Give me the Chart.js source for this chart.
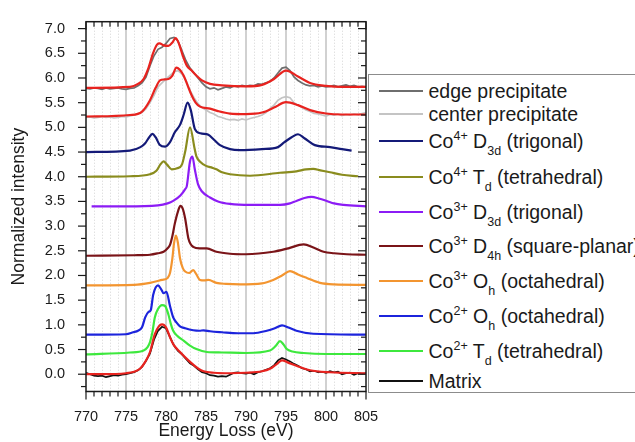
<!DOCTYPE html>
<html><head><meta charset="utf-8">
<script src="https://cdn.jsdelivr.net/npm/chart.js@4"></script>
<style>
html,body{margin:0;padding:0;background:#fff;overflow:hidden;width:635px;height:442px}
#wrap{position:relative;width:635px;height:442px;overflow:hidden;background:#fff}
canvas{position:absolute;left:0;top:0}
#legend{position:absolute;left:368px;top:74px;width:330px;height:319px;border:1.5px solid #8c8c8c;box-sizing:border-box;font-family:"Liberation Sans",Arial,sans-serif;font-size:19.5px;color:#1a1a1a;background:#fff}
.row{position:absolute;left:0;height:20px;line-height:20px;white-space:nowrap}
.sw{position:absolute;left:9.5px;top:9px;width:44px;height:2px}
.tx{position:absolute;left:59.5px;top:0}
sup{font-size:12.5px;position:relative;top:-8px;vertical-align:baseline;line-height:0}
sub{font-size:12.5px;position:relative;top:7px;vertical-align:baseline;line-height:0}
</style>
</head><body>
<div id="wrap"><canvas id="c" width="635" height="442"></canvas><div id="legend"></div></div>
<script>
// ---------- DATA ----------
const xTicks = [770, 775, 780, 785, 790, 795, 800, 805];
const yTicks = [0.0, 0.5, 1.0, 1.5, 2.0, 2.5, 3.0, 3.5, 4.0, 4.5, 5.0, 5.5, 6.0, 6.5, 7.0];

// noisy measured spectra sampled every 0.5 eV from 770 to 805
const gridE = Array.from({length: 71}, (_, i) => 770 + i * 0.5);
const edgeV = [5.79,5.78,5.80,5.79,5.77,5.80,5.78,5.79,5.80,5.78,5.77,5.79,5.80,5.84,5.90,6.02,6.25,6.45,6.58,6.62,6.70,6.80,6.82,6.75,6.55,6.35,6.20,6.10,6.00,5.90,5.82,5.78,5.80,5.76,5.79,5.82,5.80,5.84,5.82,5.85,5.83,5.85,5.84,5.88,5.87,5.90,5.93,6.00,6.10,6.20,6.22,6.15,6.02,5.95,5.90,5.86,5.84,5.85,5.82,5.84,5.82,5.83,5.85,5.82,5.84,5.86,5.83,5.85,5.82,5.83,5.82];
const centerV = [5.20,5.21,5.19,5.20,5.22,5.20,5.21,5.19,5.20,5.22,5.21,5.23,5.25,5.28,5.30,5.38,5.50,5.65,5.82,5.90,5.98,6.05,6.12,6.15,6.08,5.95,5.75,5.60,5.48,5.40,5.35,5.30,5.27,5.22,5.20,5.17,5.15,5.16,5.14,5.17,5.15,5.18,5.20,5.22,5.25,5.30,5.38,5.45,5.55,5.60,5.62,5.60,5.50,5.45,5.40,5.35,5.32,5.28,5.27,5.25,5.23,5.26,5.25,5.27,5.24,5.26,5.25,5.27,5.26,5.28,5.30];
const matrixV = [0.03,0.00,-0.03,-0.04,-0.03,-0.06,-0.04,-0.02,-0.03,-0.01,0.00,0.02,0.04,0.08,0.15,0.27,0.42,0.70,0.88,0.96,0.93,0.75,0.58,0.47,0.40,0.31,0.22,0.17,0.10,0.04,0.02,-0.02,-0.03,-0.05,-0.04,-0.05,-0.01,0.03,0.04,0.02,0.01,0.03,0.00,0.04,0.06,0.09,0.12,0.18,0.28,0.33,0.30,0.26,0.21,0.17,0.12,0.10,0.06,0.07,0.04,0.05,0.03,0.06,0.04,0.05,0.00,0.02,0.03,-0.01,0.02,0.01,0.02];

// fits to measured spectra
const edgeFitE = [770,775.5,776.5,777.2,777.8,778.4,778.9,779.2,779.7,780.3,780.8,781.2,781.6,782.1,782.6,783.2,783.8,784.5,785.5,787,790,792,793.5,795,796.5,798,800,802,805];
const edgeFitV = [5.80,5.82,5.88,5.98,6.20,6.51,6.68,6.70,6.66,6.65,6.72,6.81,6.70,6.45,6.25,6.15,6.05,5.95,5.88,5.85,5.83,5.86,5.98,6.15,6.03,5.90,5.84,5.82,5.82];
const centerFitE = [770,775.5,777,778,778.7,779.25,779.8,780.3,780.8,781.3,781.7,782.2,782.7,783.2,783.7,784.25,785.5,786.5,788,790,792,793.5,795,796.5,798,800,802,805];
const centerFitV = [5.22,5.25,5.32,5.55,5.80,5.95,5.97,5.98,6.05,6.21,6.17,6.05,5.85,5.65,5.50,5.42,5.38,5.33,5.28,5.27,5.30,5.40,5.51,5.45,5.35,5.28,5.26,5.26];
const matrixFitE = [770,772,775,776,776.75,777.4,778,778.6,779.1,779.5,780,780.5,780.9,781.75,783,784,784.7,786,788,790,792,793,793.8,794.5,795.2,796.3,798,800.5,805];
const matrixFitV = [0.00,0.00,0.02,0.05,0.11,0.25,0.45,0.81,0.97,1.01,0.95,0.75,0.61,0.45,0.25,0.12,0.06,0.03,0.02,0.03,0.06,0.11,0.20,0.28,0.24,0.17,0.08,0.04,0.02];

// reference spectra
const co4D3dE = [770,775.5,776.8,777.4,777.9,778.3,778.7,779.2,779.9,780.5,781.1,781.75,782.2,782.7,783.1,783.6,784.3,785.3,786,786.75,788,789.25,792,794,794.8,795.7,796.5,797.3,798.6,800.5,802,803.2];
const co4D3dV = [4.50,4.53,4.60,4.68,4.80,4.87,4.80,4.65,4.61,4.70,4.90,5.05,5.25,5.50,5.35,4.97,4.88,4.85,4.75,4.64,4.56,4.54,4.56,4.60,4.70,4.80,4.86,4.78,4.64,4.60,4.56,4.53];
const co4TdE = [770,775.5,778,778.8,779.3,779.7,780.1,780.7,781.4,782,782.4,783,783.6,783.8,784.3,785,785.8,786.3,787,788,790.5,794.25,796.3,797.5,798.4,799.3,800.5,802,804];
const co4TdV = [4.00,4.01,4.05,4.12,4.25,4.31,4.25,4.15,4.17,4.25,4.51,5.00,4.55,4.41,4.30,4.22,4.18,4.15,4.09,4.05,4.02,4.08,4.11,4.15,4.16,4.13,4.09,4.04,4.01];
const co3D3dE = [770.7,775,779,780.2,780.9,781.8,782.4,782.6,783,783.3,783.6,784,784.5,785.5,786.5,788,790.5,794.25,795.5,796.3,797.3,798.2,799.1,800.1,801,802.2,805];
const co3D3dV = [3.40,3.40,3.42,3.46,3.51,3.62,3.75,3.81,4.31,4.41,4.15,3.85,3.70,3.58,3.50,3.45,3.43,3.43,3.46,3.51,3.57,3.59,3.56,3.51,3.46,3.43,3.40];
const co3D4hE = [770,776,778,779,779.7,780.2,780.5,780.8,781.1,781.5,781.8,782.1,782.4,782.8,783.4,784.2,785.1,786.3,788,790,793.4,795.3,797.2,798.5,799.7,801,802.6,805];
const co3D4hV = [2.40,2.41,2.42,2.45,2.48,2.55,2.62,2.80,3.05,3.30,3.41,3.35,3.15,2.75,2.58,2.55,2.55,2.48,2.44,2.43,2.48,2.55,2.63,2.56,2.48,2.45,2.43,2.42];
const co3OhE = [770,776,778,779.5,780.2,780.5,780.8,781,781.25,781.5,781.75,782.1,782.4,782.9,783.4,783.8,784.25,784.8,785.3,786.3,787.5,789.25,792,793.4,794.5,795.5,796.5,797.6,799.25,801,805];
const co3OhV = [1.80,1.81,1.85,1.91,1.95,2.05,2.35,2.65,2.81,2.65,2.35,2.15,2.08,2.05,2.11,2.02,1.91,1.90,1.91,1.85,1.83,1.82,1.84,1.91,2.00,2.09,2.02,1.95,1.85,1.82,1.81];
const co2OhE = [770,775,775.9,776.5,777,777.4,777.8,778.1,778.4,779.0,779.4,779.7,780.05,780.5,780.9,781.3,781.75,782.4,783.4,784.2,784.7,785.5,787,789,790.9,792.6,793.6,794.5,795.4,796.3,798.4,805];
const co2OhV = [0.80,0.81,0.85,0.88,0.95,1.15,1.26,1.30,1.61,1.80,1.72,1.64,1.67,1.38,1.15,1.05,0.97,0.93,0.89,0.88,0.89,0.87,0.85,0.83,0.83,0.88,0.93,0.99,0.94,0.88,0.82,0.80];
const co2TdE = [770,775.5,777.2,777.7,778,778.3,778.6,779,779.5,779.9,780.3,780.6,780.9,781.4,782.2,783,783.8,785.1,787,790,793,793.7,794.25,794.7,795.1,795.8,797.2,800,805];
const co2TdV = [0.40,0.44,0.48,0.55,0.65,0.85,1.15,1.32,1.40,1.38,1.21,1.02,0.88,0.78,0.68,0.58,0.51,0.45,0.44,0.43,0.48,0.57,0.67,0.60,0.51,0.46,0.43,0.41,0.41];

const names = [
  'edge precipitate',
  'center precipitate',
  'Co<sup>4+</sup> D<sub>3d</sub> (trigonal)',
  'Co<sup>4+</sup> T<sub>d</sub> (tetrahedral)',
  'Co<sup>3+</sup> D<sub>3d</sub> (trigonal)',
  'Co<sup>3+</sup> D<sub>4h</sub> (square-planar)',
  'Co<sup>3+</sup> O<sub>h</sub> (octahedral)',
  'Co<sup>2+</sup> O<sub>h</sub> (octahedral)',
  'Co<sup>2+</sup> T<sub>d</sub> (tetrahedral)',
  'Matrix'
];
const colors = ['#6e6e6e','#c4c4c4','#141a78','#8a8c1e','#8c1cf5','#7a1418','#f39530','#1c24dc','#3de83d','#111111'];
const fitColor = '#e8231f';

// ---------- CHART ----------
const pts = (E, V) => E.map((e, i) => ({x: e, y: V[i]}));
function smooth(E, V, color, order) {
  return {data: pts(E, V), borderColor: color, borderWidth: 2.2, pointRadius: 0,
          cubicInterpolationMode: 'monotone', fill: false, order: order};
}
function noisy(V, color, order) {
  return {data: pts(gridE, V), borderColor: color, borderWidth: 1.7, pointRadius: 0,
          tension: 0, fill: false, order: order};
}
const datasets = [
  smooth(edgeFitE, edgeFitV, fitColor, 1),
  smooth(centerFitE, centerFitV, fitColor, 1),
  smooth(matrixFitE, matrixFitV, fitColor, 1),
  noisy(edgeV, colors[0], 5),
  noisy(centerV, colors[1], 5),
  noisy(matrixV, colors[9], 2),
  smooth(co4D3dE, co4D3dV, colors[2], 3),
  smooth(co4TdE, co4TdV, colors[3], 3),
  smooth(co3D3dE, co3D3dV, colors[4], 3),
  smooth(co3D4hE, co3D4hV, colors[5], 3),
  smooth(co3OhE, co3OhV, colors[6], 3),
  smooth(co2OhE, co2OhV, colors[7], 3),
  smooth(co2TdE, co2TdV, colors[8], 3)
];

const FONT = '"Liberation Sans", Arial, sans-serif';
const framePlugin = {
  id: 'frame',
  beforeDatasetsDraw(chart) {
    const {ctx, chartArea: a, scales: {x}} = chart;
    ctx.save();
    ctx.lineWidth = 1;
    ctx.strokeStyle = '#d4d4d4';
    ctx.setLineDash([1, 2]);
    for (let e = xTicks[0] + 1; e < xTicks[xTicks.length - 1]; e++) {
      if (xTicks.includes(e)) continue;
      const px = Math.round(x.getPixelForValue(e)) + 0.5;
      ctx.beginPath(); ctx.moveTo(px, a.top); ctx.lineTo(px, a.bottom); ctx.stroke();
    }
    ctx.setLineDash([]);
    ctx.strokeStyle = '#c6c6c6';
    ctx.lineWidth = 1.6;
    for (const e of xTicks) {
      if (e === xTicks[0] || e === xTicks[xTicks.length - 1]) continue;
      const px = x.getPixelForValue(e);
      ctx.beginPath(); ctx.moveTo(px, a.top); ctx.lineTo(px, a.bottom); ctx.stroke();
    }
    ctx.restore();
  },
  afterDatasetsDraw(chart) {
    const {ctx, chartArea: a, scales: {x, y}} = chart;
    ctx.save();
    ctx.strokeStyle = '#1a1a1a';
    ctx.lineWidth = 1.5;
    ctx.strokeRect(a.left, a.top, a.right - a.left, a.bottom - a.top);
    ctx.lineWidth = 1.2;
    const seg = (x1, y1, x2, y2) => { ctx.beginPath(); ctx.moveTo(x1, y1); ctx.lineTo(x2, y2); ctx.stroke(); };
    for (let e = xTicks[0]; e <= xTicks[xTicks.length - 1]; e++) {
      const px = x.getPixelForValue(e);
      const L = xTicks.includes(e) ? 8 : 5;
      seg(px, a.bottom, px, a.bottom + L);
      seg(px, a.top, px, a.top + L);
    }
    for (let k = -1; k <= 28; k++) {
      const v = k * 0.25;
      const py = y.getPixelForValue(v);
      if (py < a.top || py > a.bottom) continue;
      const L = (k % 2 === 0) ? 8 : 5;
      seg(a.left - L, py, a.left, py);
      seg(a.right - L, py, a.right, py);
    }
    ctx.restore();
  }
};

new Chart(document.getElementById('c'), {
  type: 'line',
  data: {datasets},
  options: {
    responsive: false,
    animation: false,
    devicePixelRatio: 1,
    layout: {padding: {left: 0, right: 269, top: 17, bottom: 0}},
    plugins: {legend: {display: false}, tooltip: {enabled: false}},
    scales: {
      x: {
        type: 'linear', min: 770, max: 805,
        afterBuildTicks: s => { s.ticks = xTicks.map(v => ({value: v})); },
        afterFit: s => { s.height = 50.5; },
        grid: {display: false}, border: {display: false},
        ticks: {padding: 9, color: '#1a1a1a', font: {family: FONT, size: 14.5}, maxRotation: 0,
                callback: v => String(v)},
        title: {display: true, text: 'Energy Loss (eV)', color: '#1a1a1a',
                font: {family: FONT, size: 17.5}, padding: {top: 0, bottom: 0}}
      },
      y: {
        type: 'linear', min: -0.35, max: 7.14,
        afterBuildTicks: s => { s.ticks = yTicks.map(v => ({value: v})); },
        afterFit: s => { s.width = 86; },
        grid: {display: false}, border: {display: false},
        ticks: {padding: 13, color: '#1a1a1a', font: {family: FONT, size: 14.5},
                callback: v => Number(v).toFixed(1)},
        title: {display: true, text: 'Normalized intensity', color: '#1a1a1a',
                font: {family: FONT, size: 17.5}, padding: {top: 8.5, bottom: 0}}
      }
    }
  },
  plugins: [framePlugin]
});

// ---------- LEGEND (HTML text) ----------
const rowTops = [6.2, 28.8, 56.2, 91.8, 127.2, 160.5, 196.2, 230.5, 266.2, 296.2];
const leg = document.getElementById('legend');
names.forEach((n, i) => {
  const r = document.createElement('div');
  r.className = 'row';
  r.style.top = rowTops[i] + 'px';
  r.innerHTML = '<div class="sw" style="background:' + colors[i] + '"></div><div class="tx">' + n + '</div>';
  leg.appendChild(r);
});
</script>
</body></html>
